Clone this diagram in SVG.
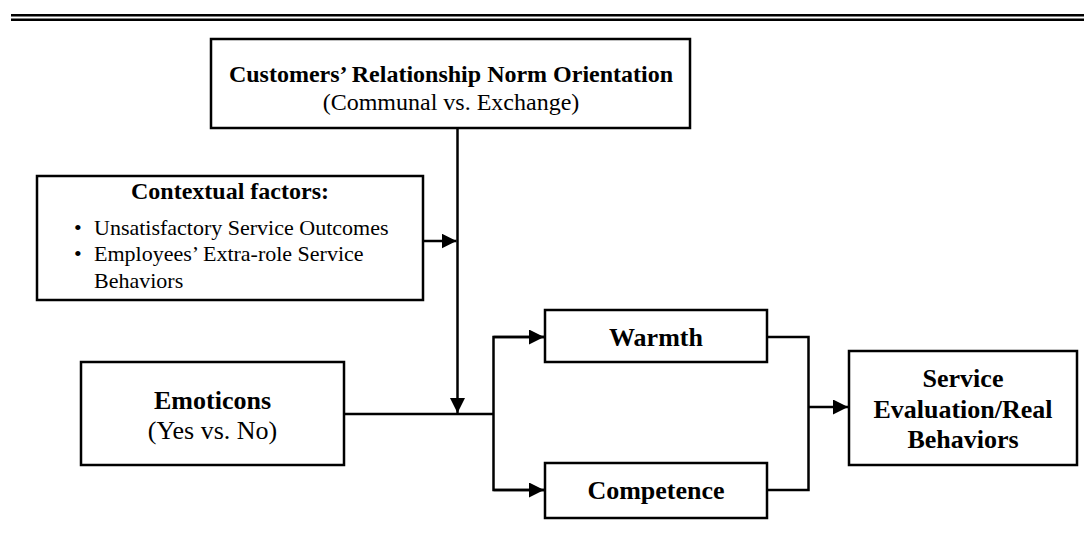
<svg xmlns="http://www.w3.org/2000/svg" width="1084" height="547" viewBox="0 0 1084 547">
<style>
.box{fill:#fff;stroke:#000;stroke-width:2.5}
.ln{fill:none;stroke:#000;stroke-width:2.5}
.t{font-family:"Liberation Serif","Times New Roman",serif;fill:#000}
.b{font-weight:bold}
.s24{font-size:24px}
.s22{font-size:22px}
.s26{font-size:26px}
</style>
<defs>
<marker id="ah" markerUnits="userSpaceOnUse" markerWidth="16" markerHeight="16" refX="15" refY="7.5" orient="auto">
<path d="M0,0 L15,7.5 L0,15 Z" fill="#000"/>
</marker>
</defs>
<g id="rule">
<line x1="11" y1="15.2" x2="1084" y2="15.2" stroke="#000" stroke-width="2.4"/>
<line x1="11" y1="19.8" x2="1084" y2="19.8" stroke="#000" stroke-width="2.4"/>
</g>
<g id="connectors">
<line class="ln" x1="457.5" y1="128" x2="457.5" y2="413" marker-end="url(#ah)"/>
<line class="ln" x1="423" y1="241" x2="456.5" y2="241" marker-end="url(#ah)"/>
<line class="ln" x1="344" y1="414" x2="493.5" y2="414"/>
<polyline class="ln" points="544,337 493.5,337 493.5,490 544,490"/>
<line class="ln" x1="493.5" y1="337" x2="544" y2="337" marker-end="url(#ah)"/>
<line class="ln" x1="493.5" y1="490" x2="544" y2="490" marker-end="url(#ah)"/>
<polyline class="ln" points="767,337 808.5,337 808.5,490 767,490"/>
<line class="ln" x1="808.5" y1="407" x2="848" y2="407" marker-end="url(#ah)"/>
</g>
<g id="node-norm">
<rect class="box" x="211" y="39" width="479" height="89"/>
<text class="t b s24" x="451" y="82" text-anchor="middle">Customers’ Relationship Norm Orientation</text>
<text class="t s24" x="451" y="110" text-anchor="middle">(Communal vs. Exchange)</text>
</g>
<g id="node-context">
<rect class="box" x="37" y="176" width="386" height="124"/>
<text class="t b s24" x="230" y="199" text-anchor="middle">Contextual factors:</text>
<text class="t s22" x="74" y="235">•</text>
<text class="t s22" x="94" y="235">Unsatisfactory Service Outcomes</text>
<text class="t s22" x="74" y="261">•</text>
<text class="t s22" x="94" y="261">Employees’ Extra-role Service</text>
<text class="t s22" x="94" y="288">Behaviors</text>
</g>
<g id="node-emoticons">
<rect class="box" x="81" y="362" width="263" height="103"/>
<text class="t b s26" x="212.5" y="409" text-anchor="middle">Emoticons</text>
<text class="t s26" x="212.5" y="439" text-anchor="middle">(Yes vs. No)</text>
</g>
<g id="node-warmth">
<rect class="box" x="545" y="310" width="222" height="52"/>
<text class="t b s26" x="656" y="346" text-anchor="middle">Warmth</text>
</g>
<g id="node-competence">
<rect class="box" x="545" y="463" width="222" height="55"/>
<text class="t b s26" x="656" y="499" text-anchor="middle">Competence</text>
</g>
<g id="node-service">
<rect class="box" x="849" y="351" width="228" height="114"/>
<text class="t b s26" x="963" y="387" text-anchor="middle">Service</text>
<text class="t b s26" x="963" y="418" text-anchor="middle">Evaluation/Real</text>
<text class="t b s26" x="963" y="448" text-anchor="middle">Behaviors</text>
</g>
</svg>
